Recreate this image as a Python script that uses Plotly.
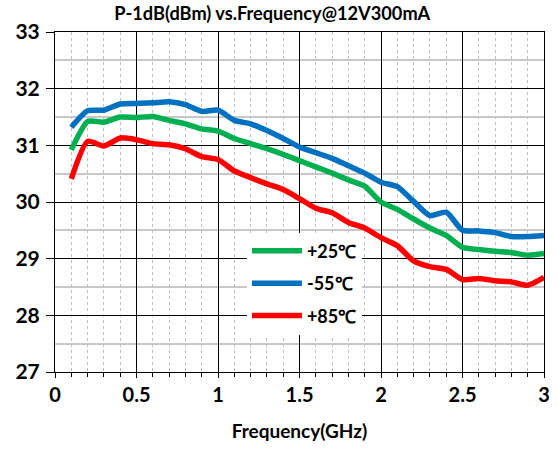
import plotly.graph_objects as go

freq = [0.1, 0.2, 0.3, 0.4, 0.5, 0.6, 0.7, 0.8, 0.9, 1.0,
        1.1, 1.2, 1.3, 1.4, 1.5, 1.6, 1.7, 1.8, 1.9, 2.0,
        2.1, 2.2, 2.3, 2.4, 2.5, 2.6, 2.7, 2.8, 2.9, 3.0]

p1db_25c = [30.92, 31.42, 31.41, 31.50, 31.49, 31.51, 31.44, 31.38, 31.29, 31.25,
            31.12, 31.03, 30.94, 30.84, 30.73, 30.62, 30.51, 30.39, 30.28, 30.00,
            29.87, 29.70, 29.54, 29.41, 29.20, 29.16, 29.13, 29.11, 29.06, 29.09]

p1db_m55c = [31.32, 31.61, 31.62, 31.73, 31.74, 31.75, 31.77, 31.72, 31.60, 31.62,
             31.44, 31.38, 31.26, 31.12, 30.97, 30.87, 30.77, 30.64, 30.51, 30.35,
             30.27, 30.01, 29.76, 29.82, 29.50, 29.49, 29.46, 29.39, 29.39, 29.41]

p1db_85c = [30.41, 31.07, 30.99, 31.13, 31.10, 31.03, 31.01, 30.94, 30.80, 30.75,
            30.55, 30.43, 30.32, 30.22, 30.06, 29.89, 29.81, 29.64, 29.54, 29.37,
            29.23, 28.96, 28.86, 28.81, 28.63, 28.65, 28.61, 28.59, 28.53, 28.67]

FONT = 'Lato'

fig = go.Figure()
fig.add_trace(go.Scatter(x=freq, y=p1db_25c, mode='lines', name='+25℃',
                         legendgroup='a', line=dict(color='#00b050', width=5.5, shape='spline', smoothing=0.6)))
fig.add_trace(go.Scatter(x=freq, y=p1db_m55c, mode='lines', name='-55℃',
                         legendgroup='b', line=dict(color='#0070c0', width=5.5, shape='spline', smoothing=0.6)))
fig.add_trace(go.Scatter(x=freq, y=p1db_85c, mode='lines', name='+85℃',
                         legendgroup='c', line=dict(color='#ff0000', width=5.5, shape='spline', smoothing=0.6)))

fig.update_xaxes(range=[0, 3], dtick=0.5, tick0=0, showline=True, linecolor='black', linewidth=1, mirror=True,
                 showgrid=True, gridcolor='black', gridwidth=1, automargin=False,
                 ticks='outside', ticklen=5, tickcolor='black', ticklabelstandoff=0,
                 minor=dict(dtick=0.1, tick0=0, showgrid=True, gridcolor='#bfbfbf', griddash='dot', gridwidth=1,
                            ticks='outside', ticklen=4, tickcolor='black'),
                 tickfont=dict(family=FONT, size=20, color='black', weight='bold'),
                 title=dict(text='<b>Frequency(GHz)</b>', font=dict(family=FONT, size=19, color='black'), standoff=19),
                 zeroline=False)
fig.update_yaxes(range=[27, 33], dtick=1, showline=True, linecolor='black', linewidth=1, mirror=True,
                 showgrid=True, gridcolor='black', gridwidth=1, automargin=False,
                 ticks='outside', ticklen=8, tickcolor='black', ticklabelstandoff=2,
                 minor=dict(dtick=0.5, showgrid=True, gridcolor='#c8c8c8', gridwidth=2),
                 tickfont=dict(family=FONT, size=21, color='black', weight='bold'),
                 zeroline=False)
fig.update_layout(
    title=dict(text='<b>P-1dB(dBm) vs.Frequency@12V300mA</b>', x=0.488, xanchor='center', y=0.985, yanchor='top',
               font=dict(family=FONT, size=18.2, color='black'), pad=dict(t=0)),
    width=558, height=451,
    margin=dict(l=55, r=14, t=32, b=79),
    plot_bgcolor='white', paper_bgcolor='white',
    legend=dict(x=0.3925, y=0.41, xanchor='left', yanchor='top', bgcolor='white',
                font=dict(family=FONT, size=18, color='black', weight='bold'),
                tracegroupgap=6, itemwidth=50),
    showlegend=True,
)

# drop the default 8px page margin so the figure fills the window exactly
fig.write_html("out.html", config={'displayModeBar': False},
               post_script="document.body.style.margin='0px';")
